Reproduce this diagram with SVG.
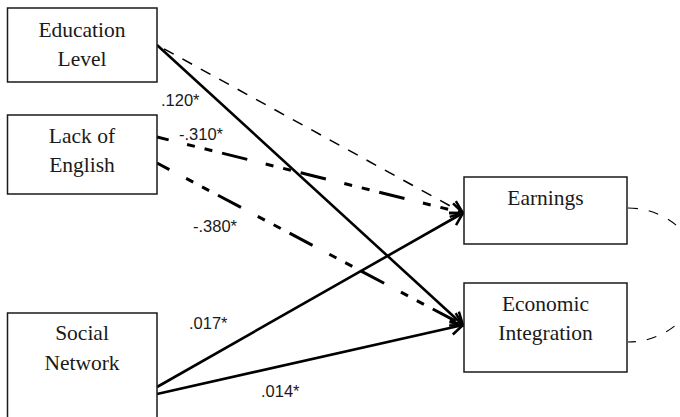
<svg xmlns="http://www.w3.org/2000/svg" width="680" height="417" viewBox="0 0 680 417">
  <defs>
    <marker id="arr" markerUnits="userSpaceOnUse" markerWidth="20" markerHeight="20" refX="14" refY="7" orient="auto" overflow="visible">
      <path d="M2,0 L14,7 L2,14" fill="none" stroke="#000" stroke-width="2.5" stroke-dasharray="none" stroke-linejoin="miter"/>
    </marker>
  </defs>
  <style>
    .box { fill: #fff; stroke: #1a1a1a; stroke-width: 1.5; }
    .lbl { fill: #1a1a1a; text-anchor: middle; }
    .coef { fill: #1a1a1a; }
    .c { fill: none; stroke: #000; }
    .solid { stroke-width: 2.6; }
    .dash { stroke-width: 1.5; stroke-dasharray: 11 10; stroke-dashoffset: 13; }
    .dd { stroke-width: 3; stroke-dasharray: 26 19 8 10 8 10; }
    .arc { fill: none; stroke: #000; stroke-width: 1.1; stroke-dasharray: 10 11; }
  </style>

  <g id="connectors">
    <line class="c dash" x1="157" y1="45" x2="463" y2="213" marker-end="url(#arr)"/>
    <line class="c solid" x1="157" y1="45" x2="463" y2="325" marker-end="url(#arr)"/>
    <line class="c dd" x1="157" y1="137" x2="463" y2="213" stroke-dashoffset="14" marker-end="url(#arr)"/>
    <line class="c dd" x1="157" y1="163" x2="463" y2="325" stroke-dashoffset="12" marker-end="url(#arr)"/>
    <line class="c solid" stroke-width="3" x1="157" y1="387" x2="463" y2="213" marker-end="url(#arr)"/>
    <line class="c solid" stroke-width="3" x1="157" y1="394" x2="463" y2="325" marker-end="url(#arr)"/>
    <path class="arc" d="M628,208 A72,67 0 0 1 628,342"/>
  </g>

  <g id="labels" font-family="Liberation Sans, Arial, sans-serif" font-size="16.5">
    <text class="coef" x="161" y="106">.120*</text>
    <text class="coef" x="179" y="140">-.310*</text>
    <text class="coef" x="193" y="232">-.380*</text>
    <text class="coef" x="189" y="329">.017*</text>
    <text class="coef" x="261" y="397">.014*</text>
  </g>

  <g font-family="Liberation Serif, Times New Roman, serif" font-size="21.5">
    <g id="education">
      <rect class="box" x="7.5" y="8" width="149.5" height="74"/>
      <text class="lbl" x="82" y="37">Education</text>
      <text class="lbl" x="82" y="66">Level</text>
    </g>
    <g id="english">
      <rect class="box" x="7.5" y="115" width="149.5" height="79"/>
      <text class="lbl" x="82" y="143">Lack of</text>
      <text class="lbl" x="82" y="172">English</text>
    </g>
    <g id="social">
      <rect class="box" x="7.5" y="313" width="149.5" height="110"/>
      <text class="lbl" x="82" y="340">Social</text>
      <text class="lbl" x="82" y="370">Network</text>
    </g>
    <g id="earnings">
      <rect class="box" x="464" y="177" width="163" height="67"/>
      <text class="lbl" x="545.5" y="205">Earnings</text>
    </g>
    <g id="economic">
      <rect class="box" x="464" y="283" width="163" height="89"/>
      <text class="lbl" x="545.5" y="311">Economic</text>
      <text class="lbl" x="545.5" y="340">Integration</text>
    </g>
  </g>
</svg>
